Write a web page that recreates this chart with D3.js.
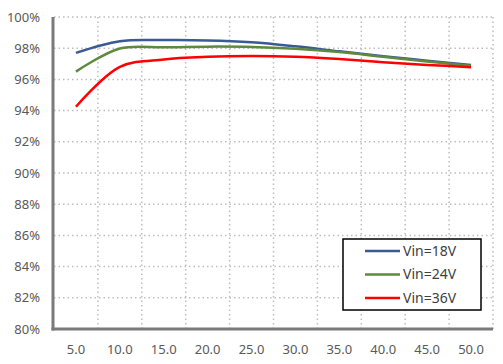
<!DOCTYPE html>
<html>
<head>
<meta charset="utf-8">
<script src="https://cdn.jsdelivr.net/npm/d3@7"></script>
<style>
  body { margin: 0; background: #fff; }
  text { font-family: "Noto Sans", sans-serif; }
</style>
</head>
<body>
<svg class="chart"></svg>
<script>
// DATA /////////////////////////////////
const loads = ["5.0", "10.0", "15.0", "20.0", "25.0", "30.0", "35.0", "40.0", "45.0", "50.0"];
const vin18 = [97.7, 98.45, 98.52, 98.5, 98.38, 98.12, 97.8, 97.48, 97.2, 96.92];
const vin24 = [96.5, 97.98, 98.06, 98.1, 98.08, 97.96, 97.75, 97.45, 97.15, 96.88];
const vin36 = [94.25, 96.8, 97.28, 97.45, 97.5, 97.45, 97.3, 97.1, 96.93, 96.78];
const yTicks = [80, 82, 84, 86, 88, 90, 92, 94, 96, 98, 100];
const seriesNames = ["Vin=18V", "Vin=24V", "Vin=36V"];

const show = () => {
  const W = 503, H = 364;
  const margin = { top: 17, bottom: 35, right: 10, left: 54 };
  const width = W - margin.left - margin.right;
  const height = H - margin.top - margin.bottom;

  const svg = d3.select(".chart").attr("width", W).attr("height", H);
  const g = svg.append("g").attr("transform", `translate(${margin.left}, ${margin.top})`);

  const x = d3.scaleBand().domain(loads).range([0, width]).padding(0);
  const y = d3.scaleLinear().domain([80, 100]).range([height, 0]);
  const cx = (d) => x(d) + x.bandwidth() / 2;

  // grid
  g.selectAll(".hgrid")
    .data(yTicks.slice(1))
    .join("line")
    .attr("x1", 0).attr("x2", width)
    .attr("y1", (d) => y(d)).attr("y2", (d) => y(d))
    .attr("stroke", "#bdbdbd").attr("stroke-width", 1.5)
    .attr("stroke-dasharray", "1.5,3");

  g.selectAll(".vgrid")
    .data(loads)
    .join("line")
    .attr("x1", (d) => x(d) + x.bandwidth()).attr("x2", (d) => x(d) + x.bandwidth())
    .attr("y1", 0).attr("y2", height)
    .attr("stroke", "#bdbdbd").attr("stroke-width", 1.5)
    .attr("stroke-dasharray", "1.5,3");

  // axes
  g.append("line").attr("x1", -1).attr("x2", -1).attr("y1", 0).attr("y2", height + 1.5)
    .attr("stroke", "#7a7a7a").attr("stroke-width", 3);
  g.append("line").attr("x1", -2.5).attr("x2", width).attr("y1", height).attr("y2", height)
    .attr("stroke", "#7a7a7a").attr("stroke-width", 3);

  g.selectAll(".ylab")
    .data(yTicks)
    .join("text")
    .attr("x", -14).attr("y", (d) => y(d)).attr("dy", "0.35em")
    .attr("text-anchor", "end").attr("fill", "#595959").attr("font-size", 13)
    .text((d) => d + "%");

  g.selectAll(".xlab")
    .data(loads)
    .join("text")
    .attr("x", cx).attr("y", height + 25)
    .attr("text-anchor", "middle").attr("fill", "#595959").attr("font-size", 13)
    .text((d) => d);

  // lines
  const series = [
    { name: seriesNames[0], values: vin18, color: "#3a5a94" },
    { name: seriesNames[1], values: vin24, color: "#5e8a3e" },
    { name: seriesNames[2], values: vin36, color: "#ff0000" },
  ];
  const line = d3.line()
    .x((d, i) => cx(loads[i]))
    .y((d) => y(d))
    .curve(d3.curveCatmullRom.alpha(0.5));

  g.selectAll(".series")
    .data(series)
    .join("path")
    .attr("fill", "none")
    .attr("stroke", (d) => d.color)
    .attr("stroke-width", 2.5)
    .attr("d", (d) => line(d.values));

  // legend
  const lg = svg.append("g").attr("transform", "translate(343, 239)");
  lg.append("rect").attr("width", 138).attr("height", 71)
    .attr("fill", "#fff").attr("stroke", "#000").attr("stroke-width", 1.5);
  const item = lg.selectAll(".item").data(series).join("g")
    .attr("transform", (d, i) => `translate(0, ${12 + i * 23.5})`);
  item.append("line").attr("x1", 22).attr("x2", 57).attr("y1", 0).attr("y2", 0)
    .attr("stroke", (d) => d.color).attr("stroke-width", 2.5);
  item.append("text").attr("x", 60).attr("dy", "0.35em")
    .attr("font-size", 14).attr("fill", "#404040").text((d) => d.name);
};
show();
</script>
</body>
</html>
